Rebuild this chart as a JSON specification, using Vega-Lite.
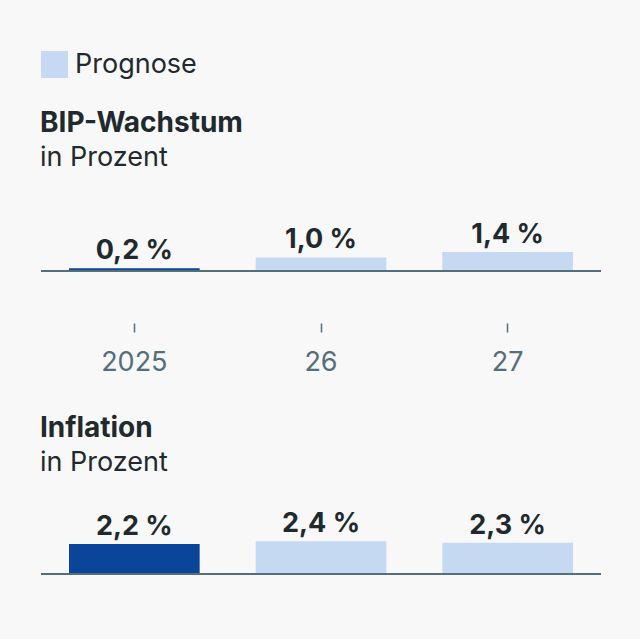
{
  "$schema": "https://vega.github.io/schema/vega-lite/v6.json",
  "background": "#f8f8f8",
  "padding": {"left": 40, "top": 51, "right": 40, "bottom": 64},
  "config": {
    "font": "Inter",
    "view": {"stroke": null},
    "concat": {"spacing": 40},
    "title": {"anchor": "start", "fontSize": 28, "fontWeight": "bold", "color": "#1f2a2e", "subtitleFontSize": 27, "subtitleColor": "#1f2a2e", "subtitleFontWeight": "normal", "subtitlePadding": 7, "offset": 30}
  },
  "datasets": {
    "bip": [
      {"jahr": "2025", "wert": 0.2, "label": "0,2 %", "typ": "Ist"},
      {"jahr": "26", "wert": 1.0, "label": "1,0 %", "typ": "Prognose"},
      {"jahr": "27", "wert": 1.4, "label": "1,4 %", "typ": "Prognose"}
    ],
    "inflation": [
      {"jahr": "2025", "wert": 2.2, "label": "2,2 %", "typ": "Ist"},
      {"jahr": "26", "wert": 2.4, "label": "2,4 %", "typ": "Prognose"},
      {"jahr": "27", "wert": 2.3, "label": "2,3 %", "typ": "Prognose"}
    ]
  },
  "vconcat": [
    {
      "title": {"text": "BIP-Wachstum", "subtitle": "in Prozent", "offset": 32},
      "width": 560,
      "height": 68,
      "data": {"name": "bip"},
      "encoding": {
        "x": {"field": "jahr", "type": "nominal", "sort": null,
          "scale": {"paddingInner": 0.3, "paddingOuter": 0.15},
          "axis": {"title": null, "labelAngle": 0, "domain": false, "ticks": true, "tickColor": "#546e7a", "tickSize": 9, "tickWidth": 1.5, "offset": 52, "labelFontSize": 27, "labelColor": "#546e7a", "labelPadding": 17}}
      },
      "layer": [
        {"mark": {"type": "bar"},
         "encoding": {
           "y": {"field": "wert", "type": "quantitative", "scale": {"domain": [0, 5]}, "axis": null},
           "color": {"field": "typ", "type": "nominal",
             "scale": {"domain": ["Ist", "Prognose"], "range": ["#0b4599", "#c6d9f3"]},
             "legend": {"orient": "top", "title": null, "values": ["Prognose"], "symbolType": "square", "symbolSize": 729, "symbolStrokeWidth": 0, "symbolOpacity": 1, "labelFontSize": 27, "labelColor": "#1f2a2e", "labelOffset": 7, "offset": 32, "padding": 0}}
         }},
        {"mark": {"type": "text", "baseline": "alphabetic", "dy": -9, "fontSize": 27, "fontWeight": "bold", "color": "#1f2a2e"},
         "encoding": {
           "y": {"field": "wert", "type": "quantitative"},
           "text": {"field": "label"}
         }},
        {"mark": {"type": "rule", "color": "#546e7a", "strokeWidth": 2},
         "encoding": {"y": {"datum": 0}, "x": null}}
      ]
    },
    {
      "title": {"text": "Inflation", "subtitle": "in Prozent", "offset": 30},
      "width": 560,
      "height": 68,
      "data": {"name": "inflation"},
      "encoding": {
        "x": {"field": "jahr", "type": "nominal", "sort": null,
          "scale": {"paddingInner": 0.3, "paddingOuter": 0.15},
          "axis": null}
      },
      "layer": [
        {"mark": {"type": "bar"},
         "encoding": {
           "y": {"field": "wert", "type": "quantitative", "scale": {"domain": [0, 5]}, "axis": null},
           "color": {"field": "typ", "type": "nominal"}
         }},
        {"mark": {"type": "text", "baseline": "alphabetic", "dy": -9, "fontSize": 27, "fontWeight": "bold", "color": "#1f2a2e"},
         "encoding": {
           "y": {"field": "wert", "type": "quantitative"},
           "text": {"field": "label"}
         }},
        {"mark": {"type": "rule", "color": "#546e7a", "strokeWidth": 2},
         "encoding": {"y": {"datum": 0}, "x": null}}
      ]
    }
  ]
}
